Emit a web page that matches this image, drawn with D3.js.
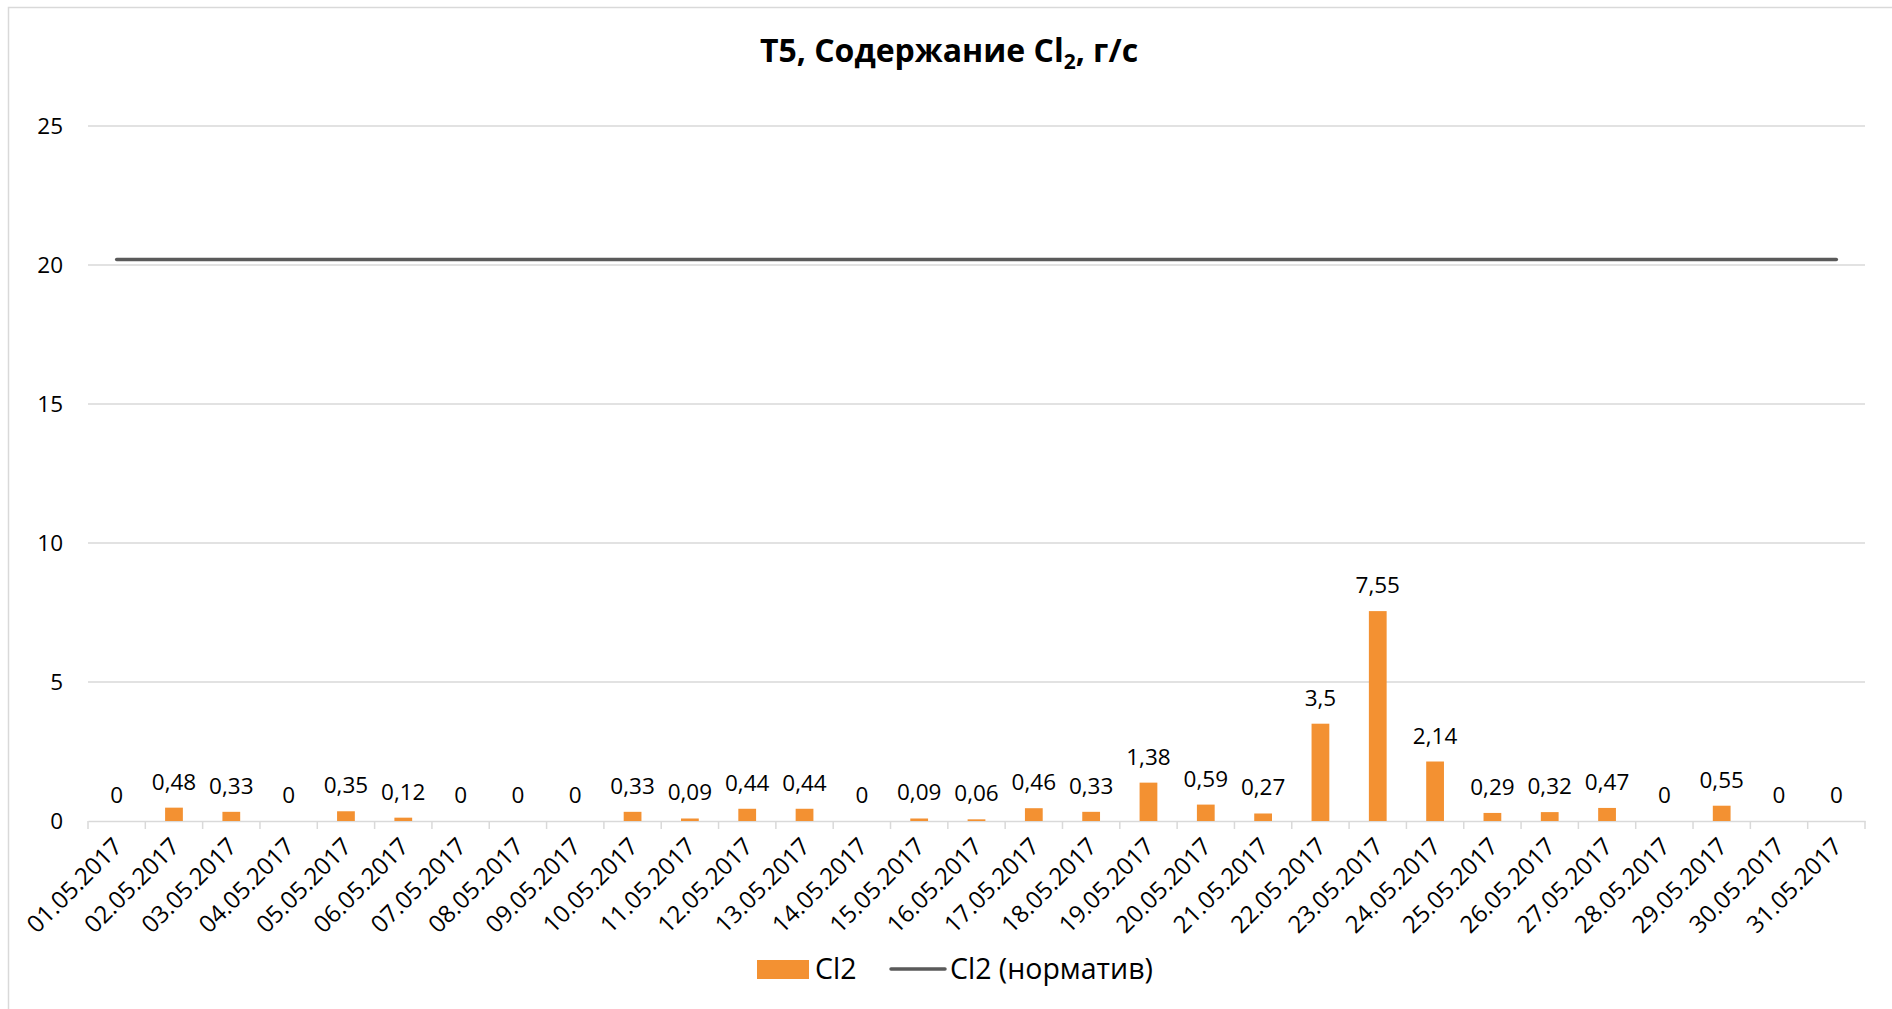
<!DOCTYPE html>
<html><head><meta charset="utf-8">
<script src="https://cdn.jsdelivr.net/npm/d3@7"></script>
<style>
html,body{margin:0;padding:0;background:#fff;}
svg{display:block;font-family:"Open Sans","Noto Sans",sans-serif;}
</style></head>
<body>
<svg id="chart" width="1892" height="1009"></svg>
<script>
const categories = ["01.05.2017","02.05.2017","03.05.2017","04.05.2017","05.05.2017","06.05.2017","07.05.2017","08.05.2017","09.05.2017","10.05.2017","11.05.2017","12.05.2017","13.05.2017","14.05.2017","15.05.2017","16.05.2017","17.05.2017","18.05.2017","19.05.2017","20.05.2017","21.05.2017","22.05.2017","23.05.2017","24.05.2017","25.05.2017","26.05.2017","27.05.2017","28.05.2017","29.05.2017","30.05.2017","31.05.2017"];
const cl2Values = [0,0.48,0.33,0,0.35,0.12,0,0,0,0.33,0.09,0.44,0.44,0,0.09,0.06,0.46,0.33,1.38,0.59,0.27,3.5,7.55,2.14,0.29,0.32,0.47,0,0.55,0,0];
const normValues = categories.map(() => 20.2);
const yTicks = [0,5,10,15,20,25];
const seriesNames = ["Cl2","Cl2 (норматив)"];

const svg = d3.select("#chart");
const mLeft = 88, mRight = 1865, mTop = 126, mBottom = 821;

svg.append("rect").attr("x",8.5).attr("y",7.5).attr("width",1900).attr("height",1100)
  .attr("fill","#fff").attr("stroke","#d9d9d9").attr("stroke-width",1.5);

const x = d3.scaleBand().domain(categories).range([mLeft,mRight]).paddingInner(0).paddingOuter(0);
const y = d3.scaleLinear().domain([0,25]).range([mBottom,mTop]);

// gridlines
svg.append("g").selectAll("line").data(yTicks.filter(d=>d>0)).join("line")
  .attr("x1",mLeft).attr("x2",mRight).attr("y1",d=>y(d)).attr("y2",d=>y(d))
  .attr("stroke","#d9d9d9").attr("stroke-width",1.5);

// y labels
svg.append("g").selectAll("text").data(yTicks).join("text")
  .attr("x",63).attr("y",d=>y(d)).attr("dy","0.36em").attr("text-anchor","end")
  .attr("font-size",22.5).attr("fill","#000").text(d=>d);

// x axis
const xAxis = d3.axisBottom(x).tickSize(0).tickFormat("");
const ax = svg.append("g").attr("transform",`translate(0,${mBottom})`).call(xAxis);
ax.select(".domain").attr("stroke","#d9d9d9").attr("stroke-width",1.5);
const boundaries = d3.range(categories.length+1).map(i => mLeft + i*x.step());
svg.append("g").selectAll("line").data(boundaries).join("line")
  .attr("x1",d=>d).attr("x2",d=>d).attr("y1",mBottom).attr("y2",mBottom+8)
  .attr("stroke","#d9d9d9").attr("stroke-width",1.5);

svg.append("g").selectAll("text").data(categories).join("text")
  .attr("transform",d=>`translate(${x(d)+x.bandwidth()/2+7},${mBottom+27}) rotate(-45)`)
  .attr("text-anchor","end").attr("font-size",24).attr("fill","#000").text(d=>d);

// bars
const bw = x.bandwidth()*0.31;
svg.append("g").selectAll("rect").data(cl2Values).join("rect")
  .attr("x",(d,i)=>x(categories[i])+x.bandwidth()/2-bw/2)
  .attr("y",d=>y(d)).attr("width",bw).attr("height",d=>y(0)-y(d))
  .attr("fill","#f39132");

// bar labels
svg.append("g").selectAll("text").data(cl2Values).join("text")
  .attr("x",(d,i)=>x(categories[i])+x.bandwidth()/2)
  .attr("y",d=>y(d)-18).attr("text-anchor","middle")
  .attr("font-size",22.5).attr("fill","#000")
  .text(d=>String(d).replace(".",","));

// norm line
const line = d3.line().x((d,i)=>x(categories[i])+x.bandwidth()/2).y(d=>y(d));
svg.append("path").datum(normValues).attr("d",line)
  .attr("fill","none").attr("stroke","#5a5a5a").attr("stroke-width",3.5).attr("stroke-linecap","round");

// title
const t = svg.append("text").attr("x",949).attr("y",62).attr("text-anchor","middle")
  .attr("font-size",32).attr("font-weight","bold").attr("fill","#000");
t.append("tspan").text("T5, Содержание Cl");
t.append("tspan").attr("font-size",21).attr("dy",7).text("2");
t.append("tspan").attr("dy",-7).text(", г/с");

// legend
const lg = svg.append("g");
lg.append("rect").attr("x",757).attr("y",960).attr("width",52).attr("height",19).attr("fill","#f39132");
lg.append("text").attr("x",815).attr("y",979).attr("font-size",28.5).attr("fill","#000").text(seriesNames[0]);
lg.append("line").attr("x1",891).attr("x2",945).attr("y1",969).attr("y2",969)
  .attr("stroke","#5a5a5a").attr("stroke-width",3.5).attr("stroke-linecap","round");
lg.append("text").attr("x",950).attr("y",979).attr("font-size",28.5).attr("fill","#000").text(seriesNames[1]);
</script>
</body></html>
